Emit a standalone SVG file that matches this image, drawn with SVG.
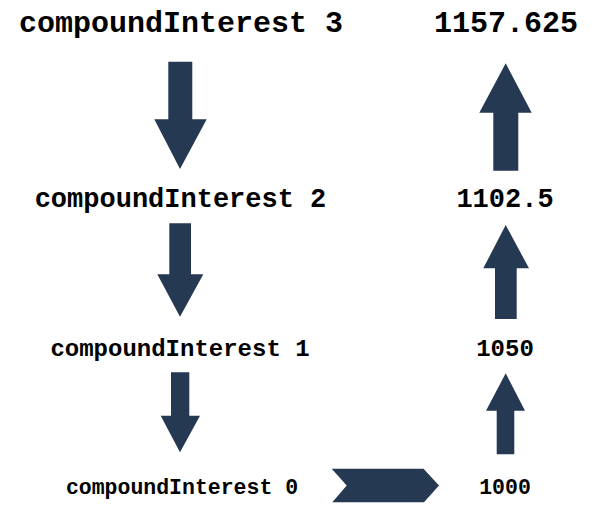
<svg xmlns="http://www.w3.org/2000/svg" width="596" height="524" viewBox="0 0 596 524">
<style>
text{font-family:"Liberation Mono","Courier New",monospace;font-weight:bold;fill:#000;text-anchor:middle}
.a{fill:#253a52;stroke:none}
</style>
<rect width="596" height="524" fill="#fff"/>
<g id="ci3"><text x="181" y="32" font-size="30">compoundInterest 3</text></g>
<g id="r3"><text x="506" y="32" font-size="30">1157.625</text></g>
<g id="ci2"><text x="180.5" y="207" font-size="27">compoundInterest 2</text></g>
<g id="r2"><text x="505" y="207" font-size="27">1102.5</text></g>
<g id="ci1"><text x="180" y="356" font-size="24">compoundInterest 1</text></g>
<g id="r1"><text x="505" y="356" font-size="24">1050</text></g>
<g id="ci0"><text x="182" y="494" font-size="21.5">compoundInterest 0</text></g>
<g id="r0"><text x="505" y="494" font-size="21.5">1000</text></g>
<g id="connectors">
<polygon class="a" points="168.3,61.7 192.3,61.7 192.3,119.3 206.7,119.3 180,169 154.3,119.3 168.3,119.3"/>
<polygon class="a" points="169.3,223.3 191,223.3 191,274.3 203.3,274.3 180,316.7 157.3,274.3 169.3,274.3"/>
<polygon class="a" points="171,372.3 189.3,372.3 189.3,415.7 200,415.7 180,452.3 160.7,415.7 171,415.7"/>
<polygon class="a" points="331.7,468.7 423.5,468.7 439,485.5 424,502.3 332.3,502.3 346.7,485.5"/>
<polygon class="a" points="496.7,454.3 514.3,454.3 514.3,410.7 525,410.7 505.7,373.3 486,410.7 496.7,410.7"/>
<polygon class="a" points="495,319 516.7,319 516.7,268.3 529,268.3 505.7,225 483.3,268.3 495,268.3"/>
<polygon class="a" points="493.3,170.7 518.3,170.7 518.3,112.7 531.7,112.7 505.7,63.3 479.3,112.7 493.3,112.7"/>
</g>
</svg>
